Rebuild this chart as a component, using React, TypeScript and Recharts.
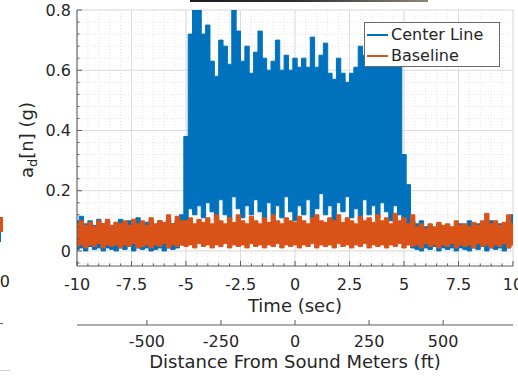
import React from "react";
import { ComposedChart, Area, XAxis, YAxis, CartesianGrid, Legend } from "recharts";

// upper / lower envelope of each trace, sampled every 0.2 s from -10 s to +10 s
const CENTER_HI = [
  0.10, 0.115, 0.09, 0.10, 0.085, 0.105, 0.09, 0.10, 0.08, 0.095,
  0.105, 0.085, 0.10, 0.09, 0.11, 0.085, 0.095, 0.10, 0.085, 0.10,
  0.09, 0.105, 0.09, 0.10, 0.12,
  0.38, 0.72, 0.80, 0.80, 0.72, 0.75, 0.63, 0.58, 0.70, 0.68,
  0.62, 0.80, 0.73, 0.63, 0.68, 0.59, 0.66, 0.73, 0.64, 0.60,
  0.63, 0.70, 0.60, 0.65, 0.60, 0.64, 0.61, 0.64, 0.61, 0.71,
  0.61, 0.65, 0.69, 0.59, 0.57, 0.64, 0.59, 0.56, 0.59, 0.61,
  0.68, 0.65, 0.66, 0.62, 0.70, 0.64, 0.68, 0.62, 0.66, 0.62,
  0.32, 0.22,
  0.10, 0.09, 0.10, 0.08, 0.085, 0.07, 0.09, 0.075, 0.085, 0.07,
  0.08, 0.09, 0.075, 0.10, 0.08, 0.09, 0.075, 0.085, 0.10, 0.08,
  0.09, 0.085, 0.105, 0.12,
];
const CENTER_LO = [
  0.005, 0.01, 0.0, 0.015, 0.005, 0.01, 0.0, 0.01, 0.005, 0.0,
  0.01, 0.005, 0.015, 0.0, 0.01, 0.005, 0.01, 0.0, 0.005, 0.01,
  0.0, 0.01, 0.005, 0.01, 0.02,
  0.09, 0.14, 0.12, 0.15, 0.11, 0.16, 0.13, 0.10, 0.17, 0.12,
  0.10, 0.18, 0.14, 0.11, 0.15, 0.12, 0.17, 0.13, 0.10, 0.16,
  0.12, 0.15, 0.11, 0.18, 0.13, 0.10, 0.15, 0.12, 0.17, 0.11,
  0.14, 0.19, 0.12, 0.15, 0.10, 0.16, 0.13, 0.18, 0.11, 0.14,
  0.10, 0.17, 0.12, 0.15, 0.11, 0.16, 0.13, 0.10, 0.15, 0.12,
  0.10, 0.06,
  0.01, 0.005, 0.0, 0.01, 0.005, 0.015, 0.0, 0.01, 0.005, 0.01,
  0.0, 0.01, 0.005, 0.0, 0.01, 0.005, 0.015, 0.0, 0.01, 0.005,
  0.01, 0.0, 0.01, 0.02,
];
const BASE_HI = [
  0.09, 0.10, 0.085, 0.095, 0.08, 0.10, 0.09, 0.105, 0.085, 0.095,
  0.09, 0.10, 0.085, 0.105, 0.09, 0.10, 0.085, 0.11, 0.09, 0.10,
  0.095, 0.12, 0.09, 0.115, 0.10,
  0.10, 0.11, 0.09, 0.105, 0.095, 0.11, 0.09, 0.12, 0.10, 0.09,
  0.11, 0.095, 0.12, 0.10, 0.09, 0.115, 0.10, 0.09, 0.11, 0.095,
  0.12, 0.10, 0.09, 0.11, 0.10, 0.095, 0.115, 0.10, 0.09, 0.11,
  0.12, 0.10, 0.095, 0.11, 0.10, 0.12, 0.095, 0.11, 0.10, 0.09,
  0.115, 0.10, 0.11, 0.095, 0.12, 0.10, 0.11, 0.09, 0.125, 0.10,
  0.11, 0.09,
  0.12, 0.08, 0.09, 0.075, 0.09, 0.08, 0.095, 0.085, 0.09, 0.08,
  0.10, 0.085, 0.09, 0.08, 0.095, 0.085, 0.10, 0.125, 0.09, 0.10,
  0.085, 0.095, 0.12, 0.09,
];
const BASE_LO = [
  0.015, 0.02, 0.01, 0.02, 0.015, 0.025, 0.01, 0.02, 0.015, 0.02,
  0.01, 0.02, 0.015, 0.025, 0.01, 0.015, 0.02, 0.01, 0.02, 0.015,
  0.025, 0.01, 0.02, 0.015, 0.02,
  0.015, 0.02, 0.01, 0.025, 0.015, 0.02, 0.01, 0.02, 0.015, 0.025,
  0.01, 0.02, 0.015, 0.02, 0.01, 0.025, 0.015, 0.02, 0.01, 0.02,
  0.015, 0.025, 0.01, 0.02, 0.015, 0.02, 0.01, 0.02, 0.015, 0.025,
  0.01, 0.02, 0.015, 0.02, 0.01, 0.025, 0.015, 0.02, 0.01, 0.02,
  0.015, 0.025, 0.01, 0.02, 0.015, 0.02, 0.01, 0.02, 0.015, 0.025,
  0.01, 0.02,
  0.015, 0.02, 0.01, 0.025, 0.015, 0.02, 0.01, 0.02, 0.015, 0.025,
  0.01, 0.02, 0.015, 0.02, 0.01, 0.025, 0.015, 0.02, 0.01, 0.02,
  0.015, 0.025, 0.01, 0.02,
];

const T_START = -10;
const T_STEP = 0.2;

const TIME_TICKS = [-10, -7.5, -5, -2.5, 0, 2.5, 5, 7.5, 10];
const G_TICKS = [0, 0.2, 0.4, 0.6, 0.8];
const DIST_TICKS = [-500, -250, 0, 250, 500];
const FT_PER_SEC = 73.6; // vehicle speed, maps time onto distance
const SERIES_ORDER = ["Center Line", "Baseline"];

// minor ticks: 5 subdivisions between the major ones
const TIME_MINOR = Array.from({ length: 41 }, (_, i) => -10 + i * 0.5);
const G_MINOR = Array.from({ length: 22 }, (_, i) => Math.round((-0.04 + i * 0.04) * 100) / 100);

const data = CENTER_HI.map((hi, i) => {
  const t = Math.round((T_START + i * T_STEP) * 10) / 10;
  return {
    t,
    dist: t * FT_PER_SEC,
    center: [CENTER_LO[i], hi],
    base: [BASE_LO[i], BASE_HI[i]],
  };
});

const BLUE = "#0072BD";
const ORANGE = "#D95319";
const INK = "#262626";
const AXIS = "#5a5a5a";
const BOX = "#9a9a9a";
const FONT = "'DejaVu Sans', sans-serif";

const isMajor = (v: number, step: number) => Math.abs(v / step - Math.round(v / step)) < 1e-6;

function TimeTick({ x, y, payload }: any) {
  const major = isMajor(payload.value, 2.5);
  return (
    <g>
      <line x1={x} x2={x} y1={y} y2={y - (major ? 5 : 2.5)} stroke={AXIS} />
      {major && (
        <text x={x} y={y + 24} textAnchor="middle" fill={INK} fontSize={16} fontFamily={FONT}>
          {payload.value}
        </text>
      )}
    </g>
  );
}

function TopTick({ x, y }: any) {
  return <line x1={x} x2={x} y1={y} y2={y + 3} stroke={BOX} />;
}

function GTick({ x, y, payload }: any) {
  const major = isMajor(payload.value, 0.2);
  return (
    <g>
      <line x1={x} x2={x + (major ? 5 : 2.5)} y1={y} y2={y} stroke={AXIS} />
      {major && (
        <text x={x - 6} y={y} dy="0.36em" textAnchor="end" fill={INK} fontSize={16} fontFamily={FONT}>
          {Number(payload.value.toFixed(1))}
        </text>
      )}
    </g>
  );
}

function RightTick({ x, y }: any) {
  return <line x1={x} x2={x - 3} y1={y} y2={y} stroke={BOX} />;
}

function DistTick({ x, y, payload }: any) {
  return (
    <g>
      <line x1={x} x2={x} y1={y} y2={y - 5} stroke={AXIS} />
      <text x={x} y={y + 22} textAnchor="middle" fill={INK} fontSize={16} fontFamily={FONT}>
        {payload.value}
      </text>
    </g>
  );
}

const timeLabel = {
  content: ({ viewBox }: any) => (
    <text x={viewBox.x + viewBox.width / 2} y={viewBox.y + 46} textAnchor="middle" fill={INK} fontSize={18} fontFamily={FONT}>
      Time (sec)
    </text>
  ),
};

const distLabel = {
  content: ({ viewBox }: any) => (
    <text x={viewBox.x + viewBox.width / 2} y={viewBox.y + 43} textAnchor="middle" fill={INK} fontSize={18} fontFamily={FONT}>
      Distance From Sound Meters (ft)
    </text>
  ),
};

const gLabel = {
  content: ({ viewBox }: any) => {
    const cx = 33;
    const cy = viewBox.y + viewBox.height / 2 + 2;
    return (
      <text x={cx} y={cy} transform={`rotate(-90, ${cx}, ${cy})`} textAnchor="middle" fill={INK} fontSize={18} fontFamily={FONT}>
        a
        <tspan fontSize={13} dy={4}>d</tspan>
        <tspan dy={-4}>[n] (g)</tspan>
      </text>
    );
  },
};

function LegendBox({ payload }: any) {
  const items = [...(payload || [])].sort(
    (a: any, b: any) => SERIES_ORDER.indexOf(a.value) - SERIES_ORDER.indexOf(b.value)
  );
  return (
    <div
      style={{
        boxSizing: "border-box",
        width: 136,
        height: 45,
        border: "1px solid #6a6a6a",
        background: "#fff",
        padding: "1px 0 0 2px",
        fontFamily: FONT,
        fontSize: 16,
        color: INK,
        lineHeight: "21px",
      }}
    >
      {items.map((p: any) => (
        <div key={p.value} style={{ display: "flex", alignItems: "center" }}>
          <span style={{ display: "inline-block", width: 21, height: 2, background: p.color, marginRight: 3 }} />
          {p.value}
        </div>
      ))}
    </div>
  );
}

export default function App() {
  return (
    <div style={{ position: "absolute", left: 0, top: 0, width: 518, height: 376, background: "#fff" }}>
      <ComposedChart width={518} height={376} data={data} margin={{ top: 10, right: 5, bottom: 0, left: 0 }}>
        <CartesianGrid
          xAxisId={0}
          yAxisId={0}
          verticalValues={TIME_MINOR}
          horizontalValues={G_MINOR}
          stroke="#e2e2e2"
          strokeDasharray="1 2"
        />
        <CartesianGrid
          xAxisId={0}
          yAxisId={0}
          verticalValues={TIME_TICKS}
          horizontalValues={G_TICKS}
          stroke="#dcdcdc"
        />
        <XAxis
          xAxisId={0}
          dataKey="t"
          type="number"
          domain={[-10, 10]}
          allowDataOverflow
          ticks={TIME_MINOR}
          interval={0}
          tickLine={false}
          tickSize={0}
          tickMargin={0}
          tick={<TimeTick />}
          height={59}
          axisLine={{ stroke: AXIS }}
          label={timeLabel}
        />
        <XAxis
          xAxisId={1}
          dataKey="dist"
          type="number"
          domain={[-10 * FT_PER_SEC, 10 * FT_PER_SEC]}
          allowDataOverflow
          ticks={DIST_TICKS}
          interval={0}
          tickLine={false}
          tickSize={0}
          tickMargin={0}
          tick={<DistTick />}
          height={51}
          axisLine={{ stroke: AXIS }}
          label={distLabel}
        />
        <XAxis
          xAxisId={2}
          dataKey="t"
          orientation="top"
          type="number"
          domain={[-10, 10]}
          allowDataOverflow
          ticks={TIME_MINOR}
          interval={0}
          tickLine={false}
          tickSize={0}
          tickMargin={0}
          tick={<TopTick />}
          height={0}
          axisLine={{ stroke: BOX }}
        />
        <YAxis
          yAxisId={0}
          type="number"
          domain={[-0.05, 0.8]}
          allowDataOverflow
          ticks={G_MINOR}
          interval={0}
          tickLine={false}
          tickSize={0}
          tickMargin={0}
          tick={<GTick />}
          width={77}
          axisLine={{ stroke: AXIS }}
          label={gLabel}
        />
        <YAxis
          yAxisId={1}
          orientation="right"
          type="number"
          domain={[-0.05, 0.8]}
          allowDataOverflow
          ticks={G_MINOR}
          interval={0}
          tickLine={false}
          tickSize={0}
          tickMargin={0}
          tick={<RightTick />}
          width={0}
          axisLine={{ stroke: BOX }}
        />
        <Area
          xAxisId={0}
          yAxisId={0}
          name="Center Line"
          dataKey="center"
          type="step"
          stroke={BLUE}
          strokeWidth={1}
          fill={BLUE}
          fillOpacity={1}
          dot={false}
          activeDot={false}
          isAnimationActive={false}
        />
        <Area
          xAxisId={0}
          yAxisId={0}
          name="Baseline"
          dataKey="base"
          type="step"
          stroke={ORANGE}
          strokeWidth={1}
          fill={ORANGE}
          fillOpacity={1}
          dot={false}
          activeDot={false}
          isAnimationActive={false}
        />
        <Legend
          layout="horizontal"
          verticalAlign="middle"
          align="center"
          content={<LegendBox />}
          wrapperStyle={{ top: 22, left: 364, width: 136 }}
        />
      </ComposedChart>
      {/* cropped remnants of the neighbouring figure */}
      <div style={{ position: "absolute", left: 190, top: 0, width: 238, height: 2, background: "linear-gradient(to right, #1b1d23, #2c2f36 45%, #8e8576)" }} />
      <div style={{ position: "absolute", left: 0, top: 217, width: 3, height: 15, background: ORANGE }} />
      <div style={{ position: "absolute", left: 0, top: 232, width: 1, height: 10, background: BLUE }} />
      <div style={{ position: "absolute", left: 0, top: 323, width: 3, height: 1, background: AXIS }} />
      <div style={{ position: "absolute", left: 0, top: 370, width: 10, height: 1, background: "#cfcfcf" }} />
      <div style={{ position: "absolute", right: 508, top: 272, fontFamily: FONT, fontSize: 16, color: INK, lineHeight: "20px" }}>10</div>
    </div>
  );
}
